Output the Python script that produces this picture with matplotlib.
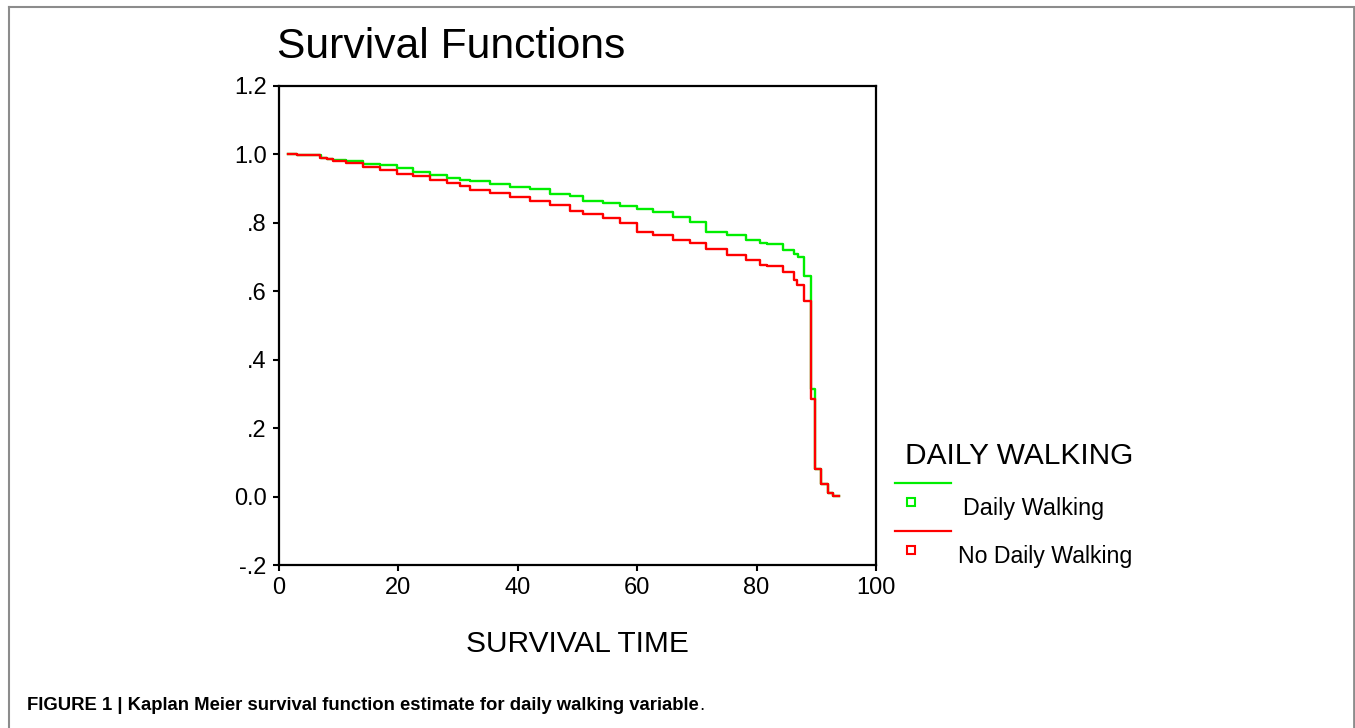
import matplotlib
matplotlib.use("Agg")
import matplotlib.pyplot as plt
from matplotlib.lines import Line2D

# ---- data ----
walk_time = [1.5, 3, 7, 8, 9, 11.3, 14.1, 16.9, 19.7, 22.5, 25.3, 28.1, 30.3, 32, 35.3,
             38.7, 42, 45.4, 48.7, 51, 54.3, 57.1, 59.9, 62.7, 66, 68.8, 71.6, 75, 78.3,
             80.6, 81.7, 84.5, 86.2, 87.0, 87.9, 89.05, 89.8, 90.8, 91.9, 92.8, 93.8]
walk_surv = [1.0, 0.997, 0.991, 0.988, 0.985, 0.982, 0.973, 0.968, 0.959, 0.949, 0.941,
             0.932, 0.926, 0.921, 0.913, 0.904, 0.898, 0.885, 0.878, 0.864, 0.859, 0.850,
             0.840, 0.831, 0.816, 0.802, 0.773, 0.764, 0.751, 0.742, 0.739, 0.720, 0.710,
             0.700, 0.646, 0.315, 0.081, 0.037, 0.010, 0.003, 0.003]

nowalk_time = [1.5, 3, 6.9, 8, 9, 11.3, 14.1, 16.9, 19.7, 22.5, 25.3, 28.1, 30.3, 32, 35.3,
               38.7, 42, 45.4, 48.7, 51, 54.3, 57.1, 59.9, 62.7, 66, 68.8, 71.6, 75, 78.3,
               80.6, 81.7, 84.5, 86.2, 86.7, 87.9, 89.05, 89.8, 90.8, 91.9, 92.8, 93.8]
nowalk_surv = [1.0, 0.997, 0.991, 0.986, 0.982, 0.976, 0.963, 0.955, 0.944, 0.938, 0.926,
               0.916, 0.907, 0.897, 0.887, 0.875, 0.863, 0.851, 0.836, 0.826, 0.815, 0.799,
               0.773, 0.764, 0.749, 0.740, 0.725, 0.705, 0.690, 0.677, 0.675, 0.655, 0.633,
               0.617, 0.573, 0.284, 0.081, 0.037, 0.010, 0.003, 0.003]

x_ticks = [0, 20, 40, 60, 80, 100]
y_ticks = [-0.2, 0.0, 0.2, 0.4, 0.6, 0.8, 1.0, 1.2]
y_tick_labels = ["-.2", "0.0", ".2", ".4", ".6", ".8", "1.0", "1.2"]
series_labels = ["Daily Walking", "No Daily Walking"]
legend_title = "DAILY WALKING"
GREEN = "#00ee00"
RED = "#ff0000"

plt.rcParams['font.family'] = ['Liberation Sans', 'DejaVu Sans']

W, H = 1355, 728
fig = plt.figure(figsize=(W / 100, H / 100), dpi=100)

def fx(px):
    return px / W

def fy(py):
    return 1 - py / H

ax = fig.add_axes([fx(279), fy(565), fx(876) - fx(279), fy(86) - fy(565)])

ax.plot(walk_time, walk_surv, drawstyle='steps-post', color=GREEN, lw=1.7, zorder=3)
ax.plot(nowalk_time, nowalk_surv, drawstyle='steps-post', color=RED, lw=1.7, zorder=4)

ax.set_xlim(0, 100)
ax.set_ylim(-0.2, 1.2)
ax.set_xticks(x_ticks)
ax.set_xticklabels([str(v) for v in x_ticks])
ax.set_yticks(y_ticks)
ax.set_yticklabels(y_tick_labels)
for sp in ax.spines.values():
    sp.set_linewidth(1.6)
    sp.set_color('black')
ax.tick_params(direction='out', length=4, width=1.5, labelsize=17, pad=5, colors='black')

ax.set_xlabel("SURVIVAL TIME", fontsize=21.5, labelpad=22)

fig.text(fx(277), fy(58), "Survival Functions", fontsize=30.7, ha='left', va='baseline')

# legend (drawn manually to match the layout)
fig.text(fx(905), fy(456), legend_title, fontsize=21.5, ha='left', va='center')
fig.add_artist(Line2D([fx(895), fx(951)], [fy(483), fy(483)], color=GREEN, lw=1.6))
fig.add_artist(Line2D([fx(895), fx(951)], [fy(531), fy(531)], color=RED, lw=1.6))
fig.add_artist(Line2D([fx(911)], [fy(502)], marker='s', markersize=6, markerfacecolor='white',
                      markeredgecolor=GREEN, markeredgewidth=1.5, lw=0))
fig.add_artist(Line2D([fx(911)], [fy(550)], marker='s', markersize=6, markerfacecolor='white',
                      markeredgecolor=RED, markeredgewidth=1.5, lw=0))
fig.text(fx(963), fy(509), series_labels[0], fontsize=16.8, ha='left', va='center')
fig.text(fx(958), fy(557), series_labels[1], fontsize=16.7, ha='left', va='center')

# outer frame
frame_col = '#8c8c8c'
fig.add_artist(Line2D([fx(9), fx(9)], [fy(7), 0], color=frame_col, lw=1.5))
fig.add_artist(Line2D([fx(9), fx(1354)], [fy(7), fy(7)], color=frame_col, lw=1.5))
fig.add_artist(Line2D([fx(1354), fx(1354)], [fy(7), 0], color=frame_col, lw=2))

# caption
cap = fig.text(fx(27), fy(705),
               "FIGURE 1 | Kaplan Meier survival function estimate for daily walking variable",
               fontsize=13.3, fontweight='bold', ha='left', va='center',
               family=['Liberation Sans Narrow', 'Liberation Sans', 'DejaVu Sans'])
fig.canvas.draw()
bb = cap.get_window_extent()
fig.text(bb.x1 / W + 0.0005, fy(705), ".", fontsize=13.3, ha='left', va='center',
         family=['Liberation Sans Narrow', 'Liberation Sans', 'DejaVu Sans'])

fig.savefig("out.png", dpi=100)
